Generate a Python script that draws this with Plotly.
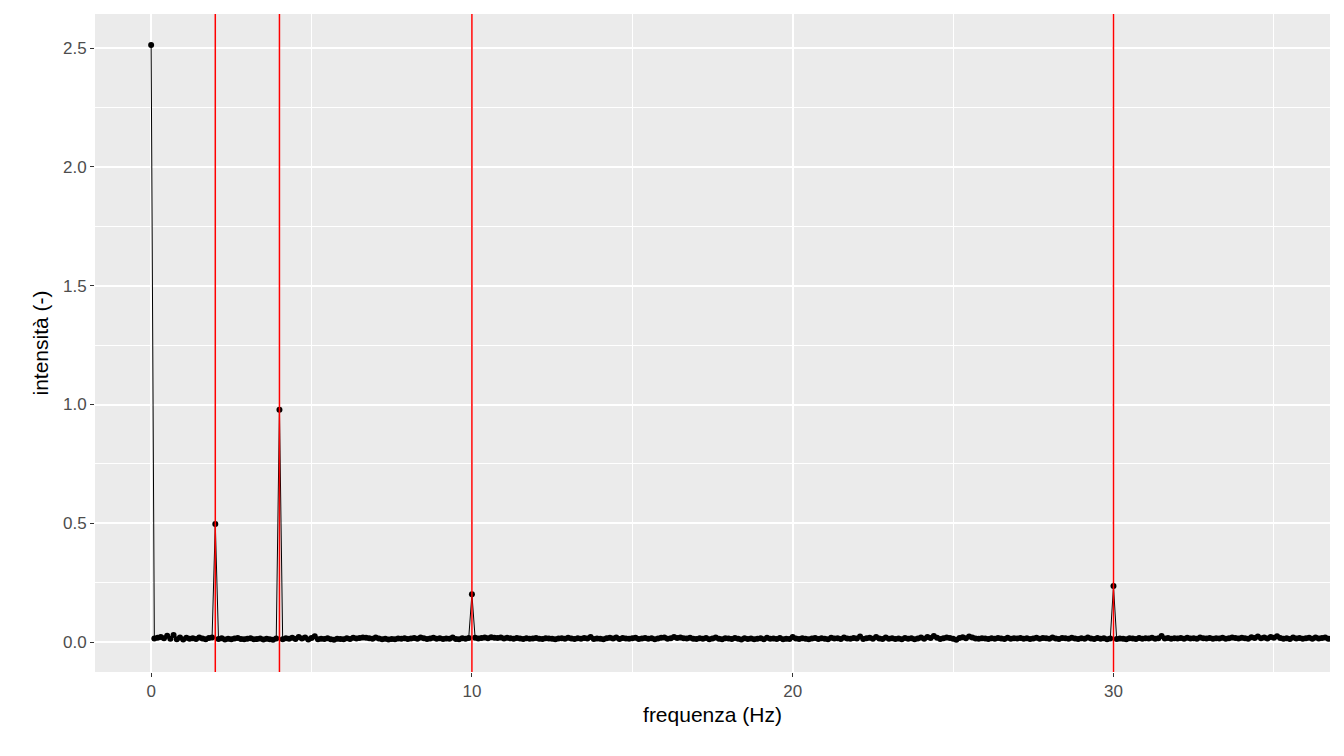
import plotly.graph_objects as go

# Intensities in thousandths, one row per Hz (0.1 Hz step)
intensity_milli = [
    2513, 15, 18, 22, 16, 27, 14, 30, 12, 20,
    11, 18, 14, 16, 13, 19, 15, 12, 17, 20,
    497, 13, 16, 11, 14, 12, 15, 17, 13, 12,
    14, 16, 12, 13, 15, 11, 14, 12, 10, 15,
    978, 12, 16, 14, 18, 13, 22, 15, 20, 11,
    17, 25, 12, 14, 13, 16, 12, 10, 14, 13,
    12, 16, 13, 18, 15, 17, 20, 18, 16, 14,
    19, 15, 12, 14, 11, 13, 12, 15, 14, 16,
    13, 15, 17, 14, 20, 16, 13, 15, 18, 14,
    16, 13, 15, 14, 20, 13, 12, 16, 14, 17,
    202, 18, 15, 17, 20, 16, 21, 18, 17, 19,
    15, 18, 16, 14, 17, 15, 13, 16, 14, 15,
    17, 14, 13, 16, 15, 14, 12, 15, 16, 14,
    18, 15, 13, 16, 14, 17, 15, 22, 13, 15,
    14, 12, 16, 18, 15, 20, 13, 17, 15, 14,
    16, 18, 13, 15, 17, 14, 16, 12, 15, 18,
    20, 14, 16, 22, 17, 19, 16, 15, 18, 14,
    13, 16, 14, 17, 12, 15, 19, 14, 12, 16,
    15, 13, 17, 14, 11, 16, 13, 15, 12, 14,
    16, 12, 18, 14, 15, 13, 17, 12, 14, 13,
    22, 15, 13, 16, 14, 12, 15, 17, 13, 16,
    14, 12, 18, 15, 16, 13, 20, 15, 14, 17,
    15, 24, 13, 16, 18, 14, 22, 15, 13, 19,
    14, 16, 13, 15, 12, 17, 14, 16, 12, 15,
    20, 14, 22, 17, 26, 18, 13, 16, 20, 17,
    14, 10, 17, 21, 16, 24, 19, 15, 14, 16,
    15, 13, 16, 14, 17, 15, 13, 18, 14, 16,
    15, 17, 14, 16, 13, 15, 18, 14, 17, 16,
    14, 19, 15, 13, 17, 16, 14, 18, 15, 13,
    16, 14, 20, 15, 13, 17, 14, 16, 12, 15,
    236, 13, 15, 14, 12, 16, 15, 13, 17, 14,
    16, 15, 18, 14, 16, 26, 15, 17, 14, 16,
    15, 17, 14, 18, 15, 16, 14, 19, 16, 15,
    17, 14, 16, 15, 18, 14, 16, 20, 17, 15,
    18, 16, 14, 21, 17, 24, 16, 19, 15, 22,
    18, 25, 17, 14, 16, 13, 19, 15, 17, 14,
    16, 18, 14, 20, 15, 17, 19, 14, 16, 18,
    15,
]
freq_step = 0.1
frequency = [round(i * freq_step, 1) for i in range(len(intensity_milli))]
intensity = [v / 1000 for v in intensity_milli]
signal_freqs = [2, 4, 10, 30]

x_range = [-1.75, 36.75]
y_range = [-0.1257, 2.6433]
x_ticks = [0, 10, 20, 30]
y_ticks = [0.0, 0.5, 1.0, 1.5, 2.0, 2.5]

fig = go.Figure()
fig.add_trace(go.Scatter(
    x=frequency, y=intensity, mode="lines+markers",
    line=dict(color="black", width=1),
    marker=dict(color="black", size=6),
    showlegend=False, cliponaxis=True,
))
vx, vy = [], []
for f in signal_freqs:
    vx += [f, f, None]
    vy += [y_range[0], y_range[1], None]
fig.add_trace(go.Scatter(
    x=vx, y=vy, mode="lines", line=dict(color="#FF0000", width=1.5),
    showlegend=False, hoverinfo="skip",
))

font = "Liberation Sans, Arial, sans-serif"
fig.update_layout(
    width=1344, height=756,
    margin=dict(l=87, r=22, t=6, b=92),
    paper_bgcolor="white", plot_bgcolor="#EBEBEB",
    font=dict(family=font, color="#4D4D4D"),
    xaxis=dict(
        range=x_range, tickvals=x_ticks, showgrid=True, gridcolor="white", gridwidth=1.6,
        minor=dict(dtick=5, tick0=0, gridcolor="white", gridwidth=0.8, showgrid=True),
        zeroline=False, ticks="outside", ticklen=4, tickwidth=1.4, tickcolor="#333333",
        tickfont=dict(size=17, color="#4D4D4D"),
        title=dict(text="frequenza (Hz)", font=dict(size=21, color="black"), standoff=6),
        showline=False,
    ),
    yaxis=dict(
        range=y_range, tickvals=y_ticks, tickformat=".1f", showgrid=True, gridcolor="white", gridwidth=1.6,
        minor=dict(dtick=0.25, tick0=0, gridcolor="white", gridwidth=0.8, showgrid=True),
        zeroline=False, ticks="outside", ticklen=4, tickwidth=1.4, tickcolor="#333333",
        tickfont=dict(size=17, color="#4D4D4D"),
        title=dict(text="intensità (-)", font=dict(size=21, color="black"), standoff=8),
        showline=False,
    ),
)
fig.write_html("out.html")
